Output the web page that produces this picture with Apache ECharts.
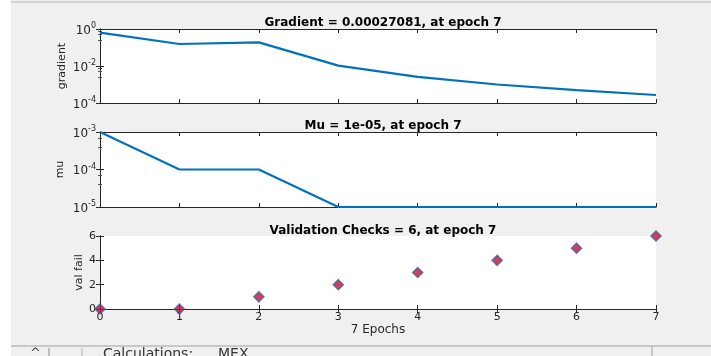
<!DOCTYPE html>
<html>
<head>
<meta charset="utf-8">
<script src="https://cdn.jsdelivr.net/npm/echarts@6/dist/echarts.min.js"></script>
<style>
  html, body { margin: 0; padding: 0; background: #f0f0f0; }
  #chart { width: 711px; height: 356px; }
</style>
</head>
<body>
<div id="chart"></div>
<script>
// Training record: epochs and per-epoch values
const epochs = [0, 1, 2, 3, 4, 5, 6, 7];
const gradient = [0.63, 0.155, 0.19, 0.0105, 0.0026, 0.001, 0.0005, 0.00027081];
const mu = [1e-3, 1e-4, 1e-4, 1e-5, 1e-5, 1e-5, 1e-5, 1e-5];
const valFail = [0, 0, 1, 2, 3, 4, 5, 6];

const titles = [
  'Gradient = 0.00027081, at epoch 7',
  'Mu = 1e-05, at epoch 7',
  'Validation Checks = 6, at epoch 7'
];
const yNames = ['gradient', 'mu', 'val fail'];
const xName = '7 Epochs';

const FONT = '"DejaVu Sans", "Liberation Sans", Arial, sans-serif';
const AX = '#262626';
const LINE = '#0072BD';

const pair = (xs, ys) => xs.map((x, i) => [x, ys[i]]);

const logLabel = {
  fontFamily: FONT,
  color: AX,
  margin: 4,
  formatter: v => '{b|10}{s|' + Math.round(Math.log10(v)) + '}',
  rich: {
    b: { fontSize: 12, fontFamily: FONT, color: AX, padding: [3, 0, 0, 0] },
    s: { fontSize: 8, fontFamily: FONT, color: AX, padding: [0, 0, 6, 0] }
  }
};

const grids = [
  { left: 100, right: 55, top: 29, height: 74 },
  { left: 100, right: 55, top: 132, height: 75 },
  { left: 100, right: 55, top: 236, height: 73 }
].map(g => Object.assign(g, { show: true, backgroundColor: '#ffffff', borderWidth: 0 }));

const axisLine = { show: true, lineStyle: { color: AX, width: 1 } };

function xAxes(gi, labelled) {
  return [
    {
      gridIndex: gi, type: 'value', min: 0, max: 7, interval: 1, position: 'bottom',
      axisLine, splitLine: { show: false },
      axisTick: { show: true, inside: true, length: 4, lineStyle: { color: AX } },
      axisLabel: labelled
        ? { show: true, fontFamily: FONT, fontSize: 11, color: AX, margin: 3 }
        : { show: false },
      name: labelled ? xName : '',
      nameLocation: 'middle', nameGap: 15, nameMoveOverlap: false,
      nameTextStyle: { fontFamily: FONT, fontSize: 12, color: AX }
    },
    {
      gridIndex: gi, type: 'value', min: 0, max: 7, interval: 1, position: 'top',
      axisLine, splitLine: { show: false },
      axisTick: { show: true, inside: true, length: 4, lineStyle: { color: AX } },
      axisLabel: { show: false }
    }
  ];
}

function yAxes(gi, cfg) {
  const base = {
    gridIndex: gi, axisLine, splitLine: { show: false },
    axisTick: { show: true, inside: true, length: 4, lineStyle: { color: AX } }
  };
  const left = Object.assign({}, base, cfg, {
    position: 'left',
    name: yNames[gi], nameLocation: 'middle', nameGap: cfg.nameGap, nameRotate: 90,
    nameMoveOverlap: false,
    nameTextStyle: { fontFamily: FONT, fontSize: 11, color: AX }
  });
  const right = Object.assign({}, base, cfg, {
    position: 'right', axisLabel: { show: false }, name: ''
  });
  return [left, right];
}

const logMinor = n => ({ show: true, splitNumber: n, length: 2, lineStyle: { color: '#555' } });

const yAxisList = [
  ...yAxes(0, { type: 'log', logBase: 10, min: 1e-4, max: 1, interval: 2, axisLabel: logLabel, minorTick: logMinor(4), nameGap: 32 }),
  ...yAxes(1, { type: 'log', logBase: 10, min: 1e-5, max: 1e-3, interval: 1, axisLabel: logLabel, minorTick: logMinor(3), nameGap: 34 }),
  ...yAxes(2, { type: 'value', min: 0, max: 6, interval: 2,
    axisLabel: { fontFamily: FONT, fontSize: 11, color: AX, margin: 4 }, nameGap: 15 })
];

const xAxisList = [...xAxes(0, false), ...xAxes(1, false), ...xAxes(2, true)];

const option = {
  backgroundColor: '#f0f0f0',
  animation: false,
  title: titles.map((t, i) => ({
    text: t, left: 378, top: [12, 115, 220][i], textAlign: 'center',
    textStyle: { fontFamily: FONT, fontSize: 12, fontWeight: 'bold', color: '#000' }
  })),
  grid: grids,
  xAxis: xAxisList,
  yAxis: yAxisList,
  series: [
    {
      type: 'line', xAxisIndex: 0, yAxisIndex: 0, data: pair(epochs, gradient),
      showSymbol: false, lineStyle: { color: LINE, width: 2.2 }, clip: false
    },
    {
      type: 'line', xAxisIndex: 2, yAxisIndex: 2, data: pair(epochs, mu),
      showSymbol: false, lineStyle: { color: LINE, width: 2.2 }, clip: false
    },
    {
      type: 'scatter', xAxisIndex: 4, yAxisIndex: 4, data: pair(epochs, valFail),
      symbol: 'diamond', symbolSize: 10, clip: false,
      itemStyle: { color: '#c0103a', borderColor: '#4d5d8c', borderWidth: 1.5 }
    }
  ],
  graphic: [
    { type: 'rect', left: 0, top: 0, shape: { width: 11, height: 356 }, style: { fill: '#ffffff' }, silent: true },
    { type: 'line', shape: { x1: 11, y1: 2, x2: 711, y2: 2 }, style: { stroke: '#b4b4b4', lineWidth: 1 }, silent: true },
    { type: 'line', shape: { x1: 11, y1: 346, x2: 711, y2: 346 }, style: { stroke: '#a0a0a0', lineWidth: 1 }, silent: true },
    { type: 'line', shape: { x1: 652, y1: 346, x2: 652, y2: 356 }, style: { stroke: '#a0a0a0', lineWidth: 1 }, silent: true },
    { type: 'line', shape: { x1: 49, y1: 348, x2: 49, y2: 356 }, style: { stroke: '#8a8a8a', lineWidth: 1 }, silent: true },
    { type: 'line', shape: { x1: 82, y1: 348, x2: 82, y2: 356 }, style: { stroke: '#b0b0b0', lineWidth: 1 }, silent: true },
    { type: 'text', left: 30, top: 347, style: { text: '^', fontFamily: FONT, fontSize: 13, fill: '#444' }, silent: true },
    { type: 'text', left: 103, top: 347, style: { text: 'Calculations:', fontFamily: FONT, fontSize: 14, fill: '#333' }, silent: true },
    { type: 'text', left: 218, top: 347, style: { text: 'MEX', fontFamily: FONT, fontSize: 14, fill: '#333' }, silent: true }
  ]
};

echarts.init(document.getElementById('chart'), null, { renderer: 'canvas' }).setOption(option);
</script>
</body>
</html>
